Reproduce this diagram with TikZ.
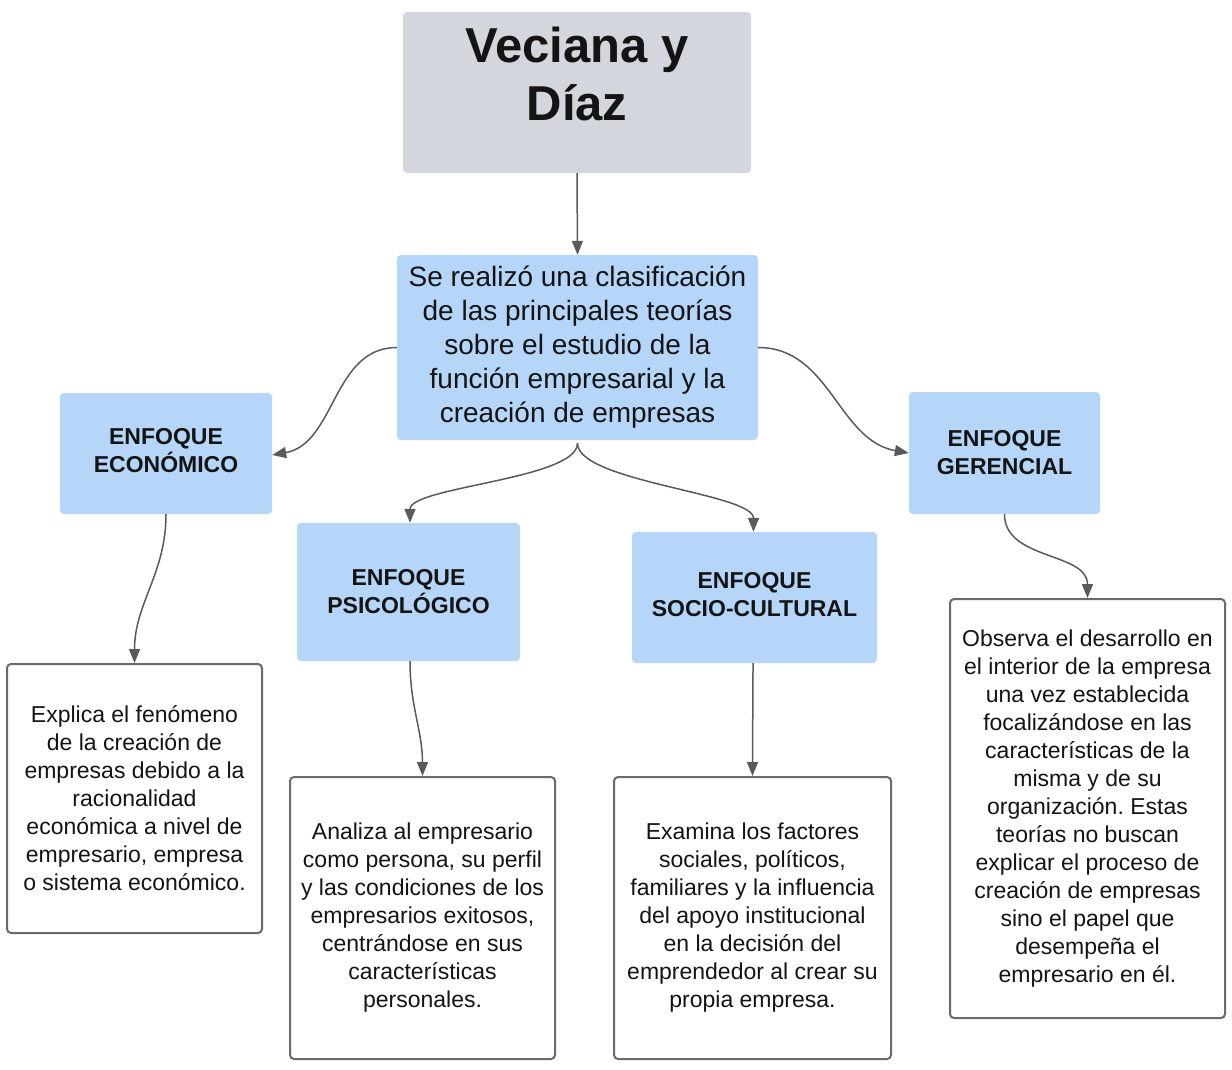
\documentclass[tikz,border=0pt]{standalone}
\usepackage{fontspec}
\setmainfont{Liberation Sans}
\usetikzlibrary{arrows.meta}
\frenchspacing
\definecolor{titlegray}{HTML}{D3D6DC}
\definecolor{boxblue}{HTML}{B5D5F9}
\definecolor{linegray}{HTML}{5A5A5A}
\definecolor{bordergray}{HTML}{6A6A6A}
\definecolor{txt}{HTML}{141414}
\tikzset{
  titlebox/.style={rectangle, rounded corners=4pt, fill=titlegray, inner sep=0pt},
  bluebox/.style={rectangle, rounded corners=4pt, fill=boxblue, inner sep=0pt, align=center, text=txt,
    font=\fontsize{23}{28}\selectfont\bfseries},
  mainbox/.style={rectangle, rounded corners=4pt, fill=boxblue, inner sep=0pt, align=center, text=txt,
    font=\fontsize{28}{34}\selectfont},
  whitebox/.style={rectangle, rounded corners=4pt, draw=bordergray, line width=2pt, fill=white, inner sep=0pt,
    align=center, text=txt, font=\fontsize{23}{28}\selectfont},
  conn/.style={draw=linegray, line width=1.5pt, -{Triangle[length=14pt,width=11pt]}}
}
\begin{document}
\begin{tikzpicture}[x=1pt,y=1pt]
\useasboundingbox[fill=white] (0,0) rectangle (1232,-1069);

\node[titlebox, minimum width=348pt, minimum height=161pt] (title) at (577,-92.5) {};
\node[text=txt, align=center, font=\fontsize{49}{58}\selectfont\bfseries] (titletext) at (577,-74) {Veciana y\\Díaz};

\node[mainbox, minimum width=361pt, minimum height=185pt] (main) at (577.5,-347.5)
  {Se realizó una clasificación\\de las principales teorías\\sobre el estudio de la\\función empresarial y la\\creación de empresas};

\node[bluebox, minimum width=212pt, minimum height=121pt] (econ) at (166,-453.5) {ENFOQUE\\ECONÓMICO\rule[-6pt]{0pt}{0pt}};
\node[bluebox, minimum width=223pt, minimum height=138pt] (psico) at (408.5,-592) {ENFOQUE\\PSICOLÓGICO};
\node[bluebox, minimum width=245pt, minimum height=131pt] (socio) at (754.5,-597.5) {ENFOQUE\\SOCIO-CULTURAL\rule[-6pt]{0pt}{0pt}};
\node[bluebox, minimum width=191pt, minimum height=122pt] (ger) at (1004.5,-453) {ENFOQUE\\GERENCIAL};

\node[whitebox, minimum width=255pt, minimum height=269pt] (d1) at (134.5,-798.5)
  {Explica el fenómeno\\de la creación de\\empresas debido a la\\racionalidad\\económica a nivel de\\empresario, empresa\\o sistema económico.};
\node[whitebox, minimum width=265pt, minimum height=282pt] (d2) at (422.5,-918)
  {Analiza al empresario\\como persona, su perfil\\y las condiciones de los\\empresarios exitosos,\\centrándose en sus\\características\\personales.};
\node[whitebox, minimum width=277pt, minimum height=282pt] (d3) at (752.5,-918)
  {Examina los factores\\sociales, políticos,\\familiares y la influencia\\del apoyo institucional\\en la decisión del\\emprendedor al crear su\\propia empresa.};
\node[whitebox, minimum width=275pt, minimum height=419pt] (d4) at (1087.5,-808.5)
  {Observa el desarrollo en\\el interior de la empresa\\una vez establecida\\focalizándose en las\\características de la\\misma y de su\\organización. Estas\\teorías no buscan\\explicar el proceso de\\creación de empresas\\sino el papel que\\desempeña el\\empresario en él.};

\draw[conn] (title.south) -- (main.north);
\draw[conn] (main.west) to[out=180,in=10] ([yshift=-1.5pt]econ.east);
\draw[conn] (main.east) to[out=0,in=170] (ger.west);
\draw[conn] ([yshift=-3pt]main.south) to[out=-90,in=90,looseness=0.5] ([xshift=1.5pt]psico.north);
\draw[conn] ([yshift=-3pt]main.south) to[out=-90,in=90,looseness=0.5] ([xshift=-1pt]socio.north);
\draw[conn] (econ.south) to[out=-90,in=90] (d1.north);
\draw[conn] ([xshift=1.5pt]psico.south) to[out=-90,in=90] (d2.north);
\draw[conn] ([xshift=-1.5pt]socio.south) to[out=-90,in=90] (d3.north);
\draw[conn] (ger.south) to[out=-90,in=90] (d4.north);
\end{tikzpicture}
\end{document}
